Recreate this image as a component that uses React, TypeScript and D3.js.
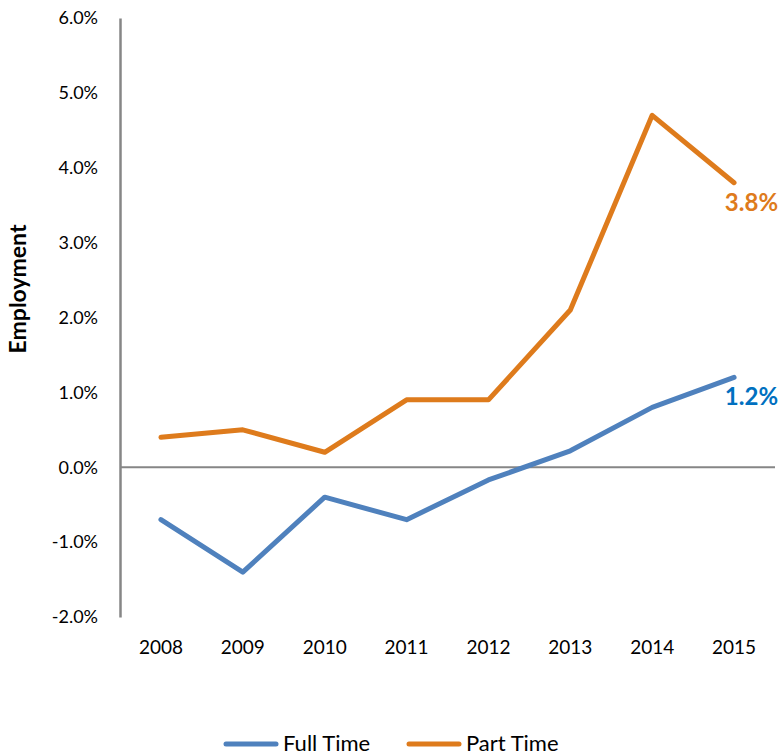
import React, { useRef, useEffect } from 'react';
import * as d3 from 'd3';

const years = ['2008', '2009', '2010', '2011', '2012', '2013', '2014', '2015'];
const fullTime = [-0.7, -1.4, -0.4, -0.7, -0.17, 0.22, 0.8, 1.2];
const partTime = [0.4, 0.5, 0.2, 0.9, 0.9, 2.1, 4.7, 3.8];
const yTicks = [-2, -1, 0, 1, 2, 3, 4, 5, 6];

const series = [
  { name: 'Full Time', values: fullTime, color: '#4F81BD', labelColor: '#0070C0' },
  { name: 'Part Time', values: partTime, color: '#DE7B1C', labelColor: '#DE7B1C' },
];

function App() {
  const svgRef = useRef<SVGSVGElement>(null);

  useEffect(() => {
    const svg = d3.select(svgRef.current);
    svg.selectAll('*').remove();

    const width = 783;
    const height = 756;
    const margin = { top: 18, right: 8, bottom: 139, left: 120 };
    const innerWidth = width - margin.left - margin.right;
    const innerHeight = height - margin.top - margin.bottom;
    const font = 'Lato, "Open Sans", sans-serif';

    const xScale = d3.scaleBand().domain(years).range([0, innerWidth]);
    const yScale = d3.scaleLinear().domain([-2, 6]).range([innerHeight, 0]);

    const g = svg.append('g')
      .attr('transform', `translate(${margin.left},${margin.top})`);

    // y axis
    const yAxisG = g.append('g')
      .call(d3.axisLeft(yScale).tickValues(yTicks).tickSize(0).tickPadding(22)
        .tickFormat(d => (d as number).toFixed(1) + '%'));
    yAxisG.select('.domain').attr('stroke', '#868686').attr('stroke-width', 2.5);
    yAxisG.selectAll('text')
      .style('font', `18px ${font}`)
      .attr('fill', '#000');

    // x axis at bottom (labels only)
    const xAxisG = g.append('g')
      .attr('transform', `translate(0,${innerHeight})`)
      .call(d3.axisBottom(xScale).tickSize(0).tickPadding(24));
    xAxisG.select('.domain').remove();
    xAxisG.selectAll('text')
      .style('font', `19px ${font}`)
      .attr('fill', '#000');

    // zero line
    g.append('line')
      .attr('x1', 0)
      .attr('x2', innerWidth)
      .attr('y1', yScale(0))
      .attr('y2', yScale(0))
      .attr('stroke', '#868686')
      .attr('stroke-width', 2);

    // axis title
    g.append('text')
      .attr('transform', 'rotate(-90)')
      .attr('x', -(289 - margin.top))
      .attr('y', -margin.left + 26)
      .attr('text-anchor', 'middle')
      .style('font', `bold 23px ${font}`)
      .text('Employment');

    const xPos = (i: number) => (xScale(years[i]) as number) + xScale.bandwidth() / 2;
    const line = d3.line<number>()
      .x((d, i) => xPos(i))
      .y(d => yScale(d));

    series.forEach(s => {
      g.append('path')
        .datum(s.values)
        .attr('fill', 'none')
        .attr('stroke', s.color)
        .attr('stroke-width', 5)
        .attr('stroke-linejoin', 'round')
        .attr('stroke-linecap', 'round')
        .attr('d', line);

      const last = s.values.length - 1;
      g.append('text')
        .attr('x', xPos(last) + 44)
        .attr('y', yScale(s.values[last]) + 28)
        .attr('text-anchor', 'end')
        .attr('fill', s.labelColor)
        .style('font', `bold 24px ${font}`)
        .text(s.values[last].toFixed(1) + '%');
    });

    // legend
    const legend = svg.append('g').attr('transform', 'translate(0,744)');
    const legendX = [224, 407];
    series.forEach((s, i) => {
      const lg = legend.append('g').attr('transform', `translate(${legendX[i]},0)`);
      lg.append('line')
        .attr('x1', 2).attr('x2', 52)
        .attr('stroke', s.color)
        .attr('stroke-width', 5)
        .attr('stroke-linecap', 'round');
      lg.append('text')
        .attr('x', 59)
        .attr('y', 7)
        .style('font', `22px ${font}`)
        .text(s.name);
    });
  }, []);

  return (
    <svg ref={svgRef} width={783} height={756}
      style={{ position: 'absolute', left: 0, top: 0, background: '#fff' }} />
  );
}

export default App;
